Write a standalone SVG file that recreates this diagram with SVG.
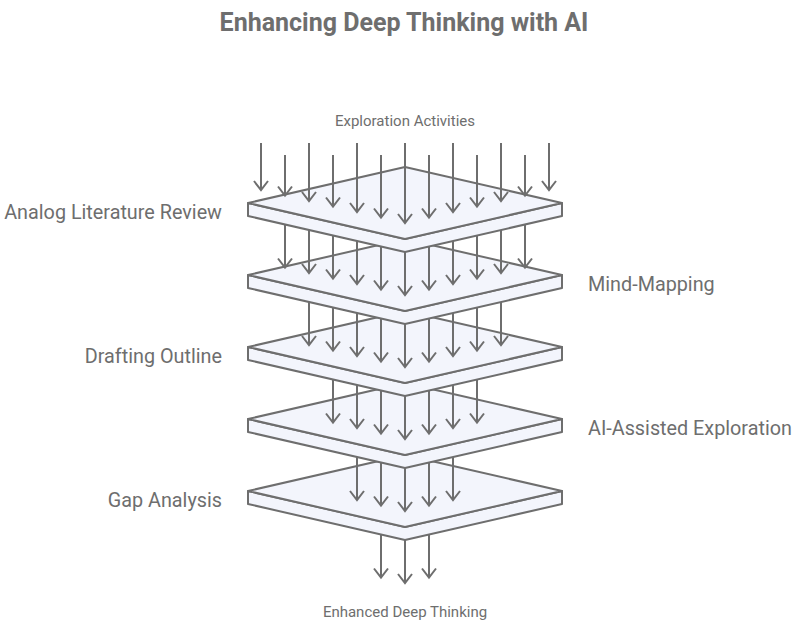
<svg xmlns="http://www.w3.org/2000/svg" width="798" height="628" viewBox="0 0 798 628">
<style>
.face{fill:#f3f5fc;stroke:#6e6e6e;stroke-width:2;stroke-linejoin:round}
.side{fill:#f3f5fc;stroke:#6e6e6e;stroke-width:2;stroke-linejoin:round}
.arr{stroke:#6e6e6e;stroke-width:2;fill:none;marker-end:url(#ah)}
.lbl{font-family:Roboto,"Liberation Sans",sans-serif;font-size:19.8px;fill:#6e6e6e}
.sm{font-family:Roboto,"Liberation Sans",sans-serif;font-size:15px;fill:#6e6e6e;text-anchor:middle}
.title{font-family:Roboto,"Liberation Sans",sans-serif;font-size:25px;font-weight:bold;fill:#6e6e6e;text-anchor:middle}
</style>
<defs>
<marker id="ah" markerUnits="userSpaceOnUse" orient="auto" markerWidth="20" markerHeight="20" refX="10" refY="10" viewBox="0 0 20 20" overflow="visible">
<path d="M1 3 L10 10 L1 17" fill="none" stroke="#6e6e6e" stroke-width="2"/>
</marker>
<g id="plate">
<path class="side" d="M248 0 L405 36 L562 0 L562 13 L405 49 L248 13 Z"/>
<path class="face" d="M248 0 L405 -36 L562 0 L405 36 Z"/>
</g>
</defs>
<rect width="798" height="628" fill="#ffffff"/>
<text class="title" x="404" y="31">Enhancing Deep Thinking with AI</text>
<text class="sm" x="405" y="126">Exploration Activities</text>
<text class="sm" x="405" y="617">Enhanced Deep Thinking</text>

<g id="gap-analysis">
<use href="#plate" x="0" y="491"/>
<text class="lbl" x="222" y="507" text-anchor="end">Gap Analysis</text>
</g>
<g id="ai-assisted-exploration">
<use href="#plate" x="0" y="419"/>
<text class="lbl" x="588" y="435">AI-Assisted Exploration</text>
</g>
<g id="drafting-outline">
<use href="#plate" x="0" y="347"/>
<text class="lbl" x="222" y="363" text-anchor="end">Drafting Outline</text>
</g>
<g id="mind-mapping">
<use href="#plate" x="0" y="275"/>
<text class="lbl" x="588" y="291">Mind-Mapping</text>
</g>
<g id="analog-literature-review">
<use href="#plate" x="0" y="203"/>
<text class="lbl" x="222" y="219" text-anchor="end">Analog Literature Review</text>
</g>

<g id="connectors">
<path class="arr" d="M261 143 V190"/>
<path class="arr" d="M285 155 V195.5"/>
<path class="arr" d="M309 143 V201"/>
<path class="arr" d="M333 155 V206.5"/>
<path class="arr" d="M357 143 V212"/>
<path class="arr" d="M381 155 V217.5"/>
<path class="arr" d="M405 143 V223"/>
<path class="arr" d="M429 155 V217.5"/>
<path class="arr" d="M453 143 V212"/>
<path class="arr" d="M477 155 V206.5"/>
<path class="arr" d="M501 143 V201"/>
<path class="arr" d="M525 155 V195.5"/>
<path class="arr" d="M549 143 V190"/>

<path class="arr" d="M285 224.5 V267.5"/>
<path class="arr" d="M309 230 V273"/>
<path class="arr" d="M333 235.5 V278.5"/>
<path class="arr" d="M357 241 V284"/>
<path class="arr" d="M381 246.5 V289.5"/>
<path class="arr" d="M405 252 V295"/>
<path class="arr" d="M429 246.5 V289.5"/>
<path class="arr" d="M453 241 V284"/>
<path class="arr" d="M477 235.5 V278.5"/>
<path class="arr" d="M501 230 V273"/>
<path class="arr" d="M525 224.5 V267.5"/>

<path class="arr" d="M309 302 V345"/>
<path class="arr" d="M333 307.5 V350.5"/>
<path class="arr" d="M357 313 V356"/>
<path class="arr" d="M381 318.5 V361.5"/>
<path class="arr" d="M405 324 V367"/>
<path class="arr" d="M429 318.5 V361.5"/>
<path class="arr" d="M453 313 V356"/>
<path class="arr" d="M477 307.5 V350.5"/>
<path class="arr" d="M501 302 V345"/>

<path class="arr" d="M333 379.5 V422.5"/>
<path class="arr" d="M357 385 V428"/>
<path class="arr" d="M381 390.5 V433.5"/>
<path class="arr" d="M405 396 V439"/>
<path class="arr" d="M429 390.5 V433.5"/>
<path class="arr" d="M453 385 V428"/>
<path class="arr" d="M477 379.5 V422.5"/>

<path class="arr" d="M357 457 V500"/>
<path class="arr" d="M381 462.5 V505.5"/>
<path class="arr" d="M405 468 V511"/>
<path class="arr" d="M429 462.5 V505.5"/>
<path class="arr" d="M453 457 V500"/>

<path class="arr" d="M381 534.5 V577.5"/>
<path class="arr" d="M405 540 V583"/>
<path class="arr" d="M429 534.5 V577.5"/>
</g>
</svg>
